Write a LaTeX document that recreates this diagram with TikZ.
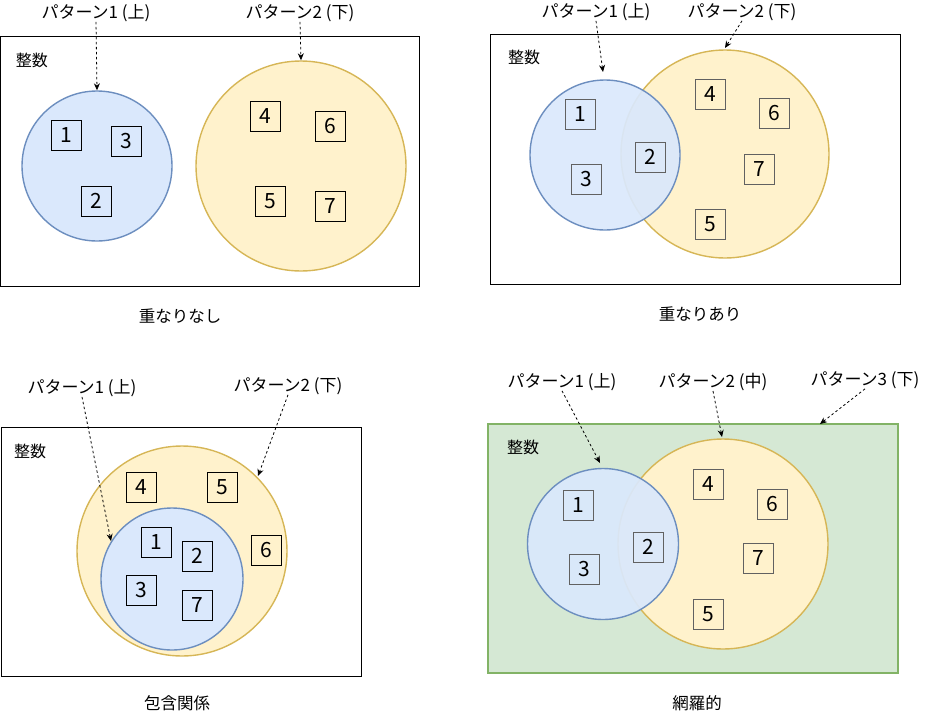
\documentclass[tikz,border=0pt]{standalone}
\usepackage{fontspec}
\setmainfont{Noto Sans CJK JP}
\usetikzlibrary{arrows.meta}
\definecolor{bfill}{HTML}{DAE8FC}
\definecolor{bline}{HTML}{6C8EBF}
\definecolor{yfill}{HTML}{FFF2CC}
\definecolor{yline}{HTML}{D6B656}
\definecolor{gfill}{HTML}{D5E8D4}
\definecolor{gline}{HTML}{82B366}
\tikzset{
  lbl/.style={inner sep=0pt, font=\fontsize{17}{20}\selectfont},
  settxt/.style={inner sep=0pt, font=\fontsize{16}{19}\selectfont},
  captxt/.style={inner sep=0pt, font=\fontsize{16.5}{19}\selectfont},
  numbox/.style={draw=black, line width=1pt, minimum size=30pt, inner sep=0pt, font=\fontsize{21}{24}\selectfont},
  numboxg/.style={numbox, draw=black!62},
  bcirc/.style={circle, draw=bline, fill=bfill, line width=1.4pt, inner sep=0pt},
  bcirct/.style={bcirc, fill opacity=0.93},
  ycirc/.style={circle, draw=yline, fill=yfill, line width=1.4pt, inner sep=0pt},
  framebox/.style={draw=black, line width=0.9pt},
  ptr/.style={draw=black, line width=0.8pt, dash pattern=on 2.5pt off 2.5pt, -{Stealth[length=7pt,width=6pt]}},
}
\begin{document}
\begin{tikzpicture}[x=1pt,y=-1pt]
\useasboundingbox (0,0) rectangle (931,715);
% ---------- Panel 1 ----------
\node[framebox, minimum width=419pt, minimum height=250pt, inner sep=0pt] (r1) at (210,161) {};
\node[settxt] (s1) at (32,60) {整数};
\node[ycirc, minimum size=210pt] (y1) at (301,166) {};
\node[bcirc, minimum size=150pt] (b1) at (97,166) {};
\node[numbox] at (66,135) {1};
\node[numbox] at (126,141) {3};
\node[numbox] at (96,201) {2};
\node[numbox] at (265,116) {4};
\node[numbox] at (330,126) {6};
\node[numbox] at (270,201) {5};
\node[numbox] at (330,206) {7};
\node[lbl] (p11) at (96,13) {パターン1 (上)};
\node[lbl] (p12) at (300,13) {パターン2 (下)};
\draw[ptr] (p11.south) -- (b1.north);
\draw[ptr] (p12.south) -- (y1.north);
\node[captxt] (c1) at (180,316) {重なりなし};
% ---------- Panel 2 ----------
\node[framebox, minimum width=410pt, minimum height=250pt, inner sep=0pt] (r2) at (695,159) {};
\node[settxt] (s2) at (524,57) {整数};
\node[ycirc, minimum size=208pt] (y2) at (725,154) {};
\node[bcirct, minimum size=150pt] (b2) at (605,155) {};
\node[numboxg] at (580,114) {1};
\node[numboxg] at (586,179) {3};
\node[numboxg] at (650,157) {2};
\node[numboxg] at (710,94) {4};
\node[numboxg] at (774,113) {6};
\node[numboxg] at (759,169) {7};
\node[numboxg] at (710,224) {5};
\node[lbl] (p21) at (596,12) {パターン1 (上)};
\node[lbl] (p22) at (742,12) {パターン2 (下)};
\coordinate (t21) at (603,72);
\coordinate (t22) at (725,48);
\draw[ptr] (p21.south) -- (t21);
\draw[ptr] (p22.south) -- (t22);
\node[captxt] (c2) at (700,314) {重なりあり};
% ---------- Panel 3 ----------
\node[framebox, minimum width=360pt, minimum height=249pt, inner sep=0pt] (r3) at (181,551.5) {};
\node[settxt] (s3) at (30,451) {整数};
\node[ycirc, minimum size=210pt] (y3) at (182,551) {};
\node[bcirc, minimum size=142pt] (b3) at (172,579) {};
\node[numbox] at (141,487) {4};
\node[numbox] at (222,487) {5};
\node[numbox] at (266,550) {6};
\node[numbox] at (156,542) {1};
\node[numbox] at (197,556) {2};
\node[numbox] at (141,590) {3};
\node[numbox] at (197,605) {7};
\node[lbl] (p31) at (82,388) {パターン1 (上)};
\node[lbl] (p32) at (288,386) {パターン2 (下)};
\coordinate (t31) at (111,541);
\coordinate (t32) at (258,476);
\draw[ptr] (p31.south) -- (t31);
\draw[ptr] (p32.south) -- (t32);
\node[captxt] (c3) at (177,703) {包含関係};
% ---------- Panel 4 ----------
\node[draw=gline, fill=gfill, line width=1.2pt, minimum width=410pt, minimum height=249pt, inner sep=0pt] (r4) at (693,548.5) {};
\node[settxt] (s4) at (523,447) {整数};
\node[ycirc, minimum size=210pt] (y4) at (723,544) {};
\node[bcirct, minimum size=151pt] (b4) at (603,544) {};
\node[numboxg] at (578,505) {1};
\node[numboxg] at (584,569) {3};
\node[numboxg] at (648,547) {2};
\node[numboxg] at (708,484) {4};
\node[numboxg] at (772,504) {6};
\node[numboxg] at (758,558) {7};
\node[numboxg] at (708,614) {5};
\node[lbl] (p41) at (562,382) {パターン1 (上)};
\node[lbl] (p42) at (713,382) {パターン2 (中)};
\node[lbl] (p43) at (865,380) {パターン3 (下)};
\coordinate (t41) at (600,463);
\coordinate (t42) at (722,437);
\coordinate (t43) at (820,424);
\draw[ptr] (p41.south) -- (t41);
\draw[ptr] (p42.south) -- (t42);
\draw[ptr] (p43.south) -- (t43);
\node[captxt] (c4) at (697,703) {網羅的};
\end{tikzpicture}
\end{document}
